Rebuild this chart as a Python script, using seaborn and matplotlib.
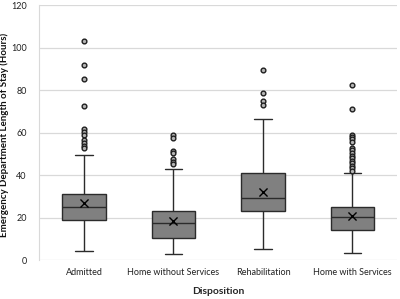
import numpy as np
import pandas as pd
import matplotlib
matplotlib.use("Agg")
import matplotlib.pyplot as plt
import seaborn as sns

categories = ["Admitted", "Home without Services", "Rehabilitation", "Home with Services"]
whisker_low = [4.3, 2.8, 5.2, 3.5]
q1 = [19.1, 10.2, 23.3, 14.4]
median = [24.9, 17.7, 29.3, 20.4]
q3 = [31.0, 23.1, 40.8, 25.1]
whisker_high = [49.5, 42.7, 66.4, 40.9]
means = [26.7, 18.3, 32.1, 20.9]

outliers = {
    "Admitted": [102.9, 92.0, 85.0, 72.6, 61.5, 60.1, 58.8, 56.5, 55.2, 53.9, 52.6],
    "Home without Services": [58.8, 57.6, 51.3, 50.2, 47.4, 46.3, 45.2],
    "Rehabilitation": [89.6, 78.7, 75.1, 72.9],
    "Home with Services": [82.5, 71.2, 59.1, 58.0, 56.9, 55.7, 52.8, 51.6, 50.4,
                           49.2, 48.0, 46.8, 45.6, 44.4, 43.2, 42.0],
}

sns.set_style("white")
plt.rcParams["font.family"] = ["Lato", "DejaVu Sans"]

# five-number summaries; whis=(0,100) makes the whiskers land on min/max
rows = []
for i, c in enumerate(categories):
    for v in [whisker_low[i], q1[i], median[i], q3[i], whisker_high[i]]:
        rows.append({"Disposition": c, "Hours": v})
box_df = pd.DataFrame(rows)

out_df = pd.DataFrame([{"Disposition": c, "Hours": v}
                       for c in categories for v in outliers[c]])
mean_df = pd.DataFrame({"Disposition": categories, "Hours": means})

fig, ax = plt.subplots(figsize=(4.0, 2.99), dpi=100)
fig.subplots_adjust(left=0.098, right=0.993, top=0.983, bottom=0.13)

sns.boxplot(data=box_df, x="Disposition", y="Hours", order=categories,
            whis=(0, 100), showfliers=False, color="#808080", saturation=1,
            linecolor="#2b2b2b", linewidth=1.0, width=0.49, capwidths=0.2, ax=ax)
sns.stripplot(data=out_df, x="Disposition", y="Hours", order=categories,
              jitter=False, size=3.4, color="#b5b5b5", edgecolor="#1e1e1e",
              linewidth=1.0, ax=ax, zorder=3)
ax.scatter(range(len(categories)), mean_df["Hours"], marker="x", s=34,
           color="black", linewidths=1.0, zorder=4)

ax.set_ylim(0, 120)
ax.set_xlim(-0.5, 3.5)
ax.set_yticks([0, 20, 40, 60, 80, 100, 120])
ax.yaxis.grid(True, color="#d9d9d9", linewidth=0.9)
ax.set_axisbelow(True)
for s in ["top", "right", "bottom"]:
    ax.spines[s].set_visible(False)
ax.spines["left"].set_color("#d9d9d9")
ax.tick_params(axis="both", length=0, labelsize=6.5, colors="#222222", pad=6)
ax.tick_params(axis="y", pad=9)
ax.set_ylabel("Emergency Department Length of Stay (Hours)", fontsize=7.0,
              fontweight="bold", color="#111111")
ax.yaxis.set_label_coords(-0.083, 0.49)
ax.set_xlabel("Disposition", fontsize=7.5, fontweight="bold", labelpad=7)

fig.savefig("out.png", dpi=100)
